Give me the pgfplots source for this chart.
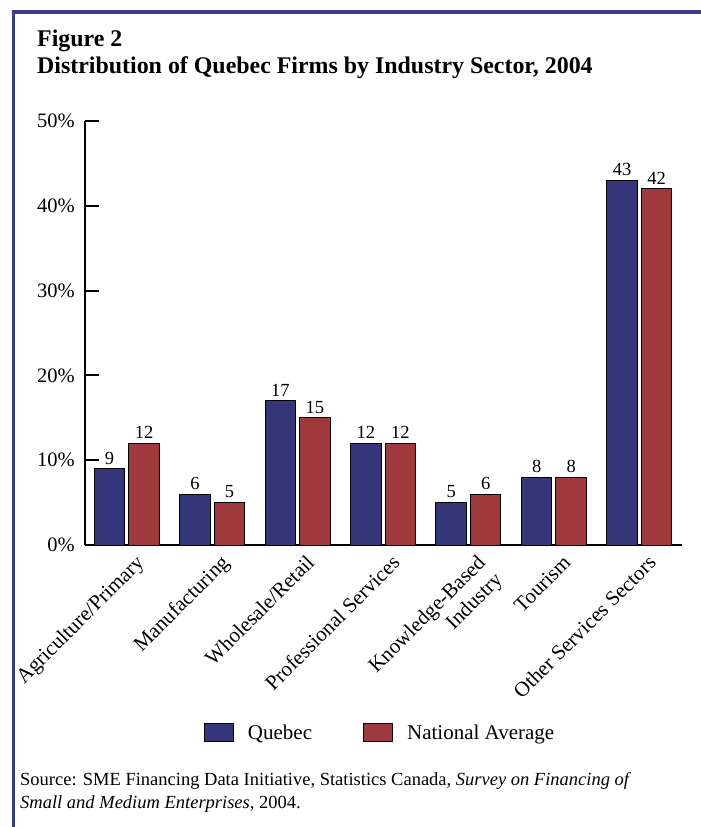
\documentclass[border=0pt]{standalone}
\usepackage{fontspec}
\setmainfont{Liberation Serif}
\usepackage{pgfplots}
\pgfplotsset{compat=1.18}
\definecolor{framecol}{HTML}{3C3C86}
\definecolor{qccol}{HTML}{35357A}
\definecolor{nacol}{HTML}{9E3A3E}
\begin{document}
\begin{tikzpicture}[x=1pt,y=1pt]
\useasboundingbox (0,0) rectangle (701,-827);
\draw[framecol, line width=3.5pt] (13.5,-830) -- (13.5,-12) -- (705,-12);
\node[anchor=base west, inner sep=0pt, font=\fontsize{23.9}{27}\selectfont\bfseries] at (37,-46) {Figure 2};
\node[anchor=base west, inner sep=0pt, font=\fontsize{23.9}{27}\selectfont\bfseries] at (37,-73) {Distribution of Quebec Firms by Industry Sector, 2004};
\begin{axis}[
  at={(85pt,-545pt)}, anchor=south west,
  scale only axis, width=597pt, height=424pt,
  xmin=-0.49, xmax=6.5, ymin=0, ymax=50,
  axis lines=left, axis line style={-, line width=2pt},
  ybar=4pt, bar width=30.5pt,
  xtick={0,...,6},
  xticklabels={Agriculture/Primary, Manufacturing, Wholesale/Retail, Professional Services, {\begin{tabular}[t]{@{}r@{}}Knowledge-Based\\Industry\end{tabular}}, Tourism, Other Services Sectors},
  x tick style={draw=none},
  xticklabel style={xshift=18pt, yshift=-19pt, rotate=45, anchor=base east, font=\fontsize{21}{24}\selectfont, inner sep=0pt},
  ytick={0,10,20,30,40,50},
  yticklabels={0\%,10\%,20\%,30\%,40\%,50\%},
  tick align=inside, major tick length=14pt,
  y tick style={line width=2pt, black},
  yticklabel style={font=\fontsize{20.5}{24}\selectfont, inner sep=0pt, xshift=-10pt},
  nodes near coords,
  /pgf/number format/assume math mode=true,
  every node near coord/.append style={font=\fontsize{18.5}{20}\selectfont, inner sep=0pt, yshift=4pt, anchor=south, black},
  legend style={at={(0.1993,-0.4198)}, anchor=north west, draw=none, fill=none, inner sep=0pt, outer sep=0pt,
    legend columns=2, font=\fontsize{21}{24}\selectfont, nodes={inner sep=0pt},
    /tikz/every odd column/.append style={column sep=14pt},
    /tikz/every even column/.append style={column sep=51pt}},
  legend image code/.code={\draw[#1, draw=black, line width=1pt] (0pt,-9pt) rectangle (29pt,9pt);},
]
\addplot[fill=qccol, draw=black, line width=1pt] coordinates {(0,9) (1,6) (2,17) (3,12) (4,5) (5,8) (6,43)};
\addplot[fill=nacol, draw=black, line width=1pt] coordinates {(0,12) (1,5) (2,15) (3,12) (4,6) (5,8) (6,42)};
\legend{Quebec, National Average}
\end{axis}
\node[anchor=base west, inner sep=0pt, font=\fontsize{18.5}{23}\selectfont] at (20,-785) {Source: SME Financing Data Initiative, Statistics Canada\textit{, Survey on Financing of}};
\node[anchor=base west, inner sep=0pt, font=\fontsize{18.5}{23}\selectfont] at (20,-808) {\textit{Small and Medium Enterprises}, 2004.};
\end{tikzpicture}
\end{document}
